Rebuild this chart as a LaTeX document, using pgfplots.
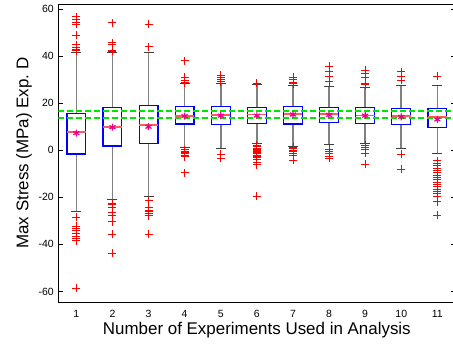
\documentclass[border=0pt]{standalone}
\usepackage{fontspec}
\setmainfont{Liberation Sans}
\usepackage{pgfplots}
\pgfplotsset{compat=1.18}
\usepgfplotslibrary{statistics}
\definecolor{mgreen}{RGB}{0,230,0}
\definecolor{medred}{RGB}{255,90,90}
\definecolor{whisk}{RGB}{128,128,128}
\begin{document}
\begin{tikzpicture}
\begin{axis}[
  scale only axis, width=397.1bp, height=297.7bp,
  xmin=0.5, xmax=11.5, ymin=-64.5, ymax=62.05,
  xtick={1,2,3,4,5,6,7,8,9,10,11},
  xticklabels={1,2,3,4,5,6,7,8,9,10,11},
  ytick={-60,-40,-20,0,20,40,60},
  yticklabels={-60,-40,-20,0,20,40,60},
  tick align=inside,
  major tick length=4.5bp,
  x tick style={draw=none},
  y tick style={black, line width=0.8bp},
  axis line style={line width=1bp},
  tick label style={font=\fontsize{10.5}{12}\selectfont},
  yticklabel style={anchor=east, inner sep=0pt, xshift=-4.3bp},
  xticklabel style={anchor=base, inner sep=0pt, yshift=-15bp},
  label style={font=\fontsize{17}{20}\selectfont},
  xlabel={Number of Experiments Used in Analysis},
  ylabel={Max Stress (MPa) Exp.\ D},
  xlabel style={at={(axis description cs:0.5,-0.1085)}, anchor=base, inner sep=0pt},
  ylabel style={at={(axis description cs:-0.0755,0.5)}, anchor=base, inner sep=0pt},
  boxplot/draw direction=y,
  boxplot/box extend=0.52,
  boxplot/whisker extend=0,
  boxplot/every box/.style={draw=blue, line width=1.2bp},
  boxplot/every whisker/.style={draw=whisk, line width=1.6bp},
  boxplot/every median/.style={draw=medred, line width=1.8bp},
]
\addplot[blue, boxplot prepared={draw position=1, lower whisker=-26.1, lower quartile=-1.6, median=7.6, upper quartile=15.7, upper whisker=41.6}] coordinates {};
\addplot[blue, boxplot prepared={draw position=2, lower whisker=-21.1, lower quartile=1.8, median=10.0, upper quartile=18.3, upper whisker=41.4}] coordinates {};
\addplot[blue, boxplot prepared={draw position=3, lower whisker=-19.7, lower quartile=3.0, median=10.9, upper quartile=19.1, upper whisker=41.4}] coordinates {};
\addplot[blue, boxplot prepared={draw position=4, lower whisker=1.2, lower quartile=11.2, median=14.7, upper quartile=18.7, upper whisker=28.2}] coordinates {};
\addplot[blue, boxplot prepared={draw position=5, lower whisker=0.8, lower quartile=11.0, median=15.0, upper quartile=18.5, upper whisker=28.5}] coordinates {};
\addplot[blue, boxplot prepared={draw position=6, lower whisker=2.7, lower quartile=11.5, median=15.2, upper quartile=18.3, upper whisker=27.8}] coordinates {};
\addplot[blue, boxplot prepared={draw position=7, lower whisker=1.5, lower quartile=11.2, median=15.3, upper quartile=18.7, upper whisker=27.5}] coordinates {};
\addplot[blue, boxplot prepared={draw position=8, lower whisker=2.3, lower quartile=11.9, median=15.3, upper quartile=18.3, upper whisker=27.0}] coordinates {};
\addplot[blue, boxplot prepared={draw position=9, lower whisker=2.7, lower quartile=11.5, median=14.8, upper quartile=18.2, upper whisker=26.8}] coordinates {};
\addplot[blue, boxplot prepared={draw position=10, lower whisker=0.8, lower quartile=11.0, median=14.7, upper quartile=17.8, upper whisker=27.5}] coordinates {};
\addplot[blue, boxplot prepared={draw position=11, lower whisker=-1.3, lower quartile=9.7, median=14.0, upper quartile=17.8, upper whisker=27.5}] coordinates {};
% whisker caps
\addplot[only marks, mark=-, mark size=5bp, black!75, mark options={line width=1.1bp}] coordinates {
(1,-26.1)(1,41.6)(2,-21.1)(2,41.4)(3,-19.7)(3,41.4)(4,1.2)(4,28.2)(5,0.8)(5,28.5)(6,2.7)(6,27.8)
(7,1.5)(7,27.5)(8,2.3)(8,27.0)(9,2.7)(9,26.8)(10,0.8)(10,27.5)(11,-1.3)(11,27.5)};
% reference band
\addplot[mgreen, line width=2bp, dash pattern=on 6bp off 3bp] coordinates {(0.5,16.5)(11.5,16.5)};
\addplot[mgreen, line width=2bp, dash pattern=on 6bp off 3bp] coordinates {(0.5,13.6)(11.5,13.6)};
% outliers
\addplot[only marks, mark=+, red, mark size=4bp, mark options={line width=0.8bp}] coordinates {
(1,56.8)(1,55.7)(1,54.5)(1,53.7)(1,49.0)(1,44.8)(1,43.8)(1,42.9)(1,42.3)
(1,-28.5)(1,-32.2)(1,-33.1)(1,-34.2)(1,-35.3)(1,-36.4)(1,-37.4)(1,-38.4)(1,-58.6)
(2,54.2)(2,45.7)(2,44.8)(2,42.6)(2,42.0)
(2,-22.5)(2,-23.2)(2,-24.2)(2,-26.5)(2,-27.5)(2,-30.3)(2,-35.7)(2,-43.8)
(3,53.5)(3,44.0)(3,-21.4)(3,-24.2)(3,-25.4)(3,-26.1)(3,-26.8)(3,-27.8)(3,-35.7)
(4,38.1)(4,31.0)(4,29.6)(4,28.8)(4,0.3)(4,-0.5)(4,-1.0)(4,-1.5)(4,-2.0)(4,-2.7)(4,-9.5)
(5,32.0)(5,31.0)(5,30.0)(5,29.2)(5,-1.6)(5,-3.4)
(6,28.5)(6,2.2)(6,1.5)(6,1.0)(6,0.5)(6,0.0)(6,-0.5)(6,-1.0)(6,-1.5)(6,-2.0)(6,-2.5)(6,-3.0)(6,-4.0)(6,-5.0)(6,-6.2)(6,-19.4)
(7,31.0)(7,30.0)(7,29.0)(7,28.3)(7,1.2)(7,0.6)(7,0.0)(7,-0.6)(7,-1.2)(7,-2.0)(7,-4.2)
(8,35.8)(8,33.4)(8,31.6)(8,29.2)(8,0.4)(8,-0.5)(8,-1.5)(8,-2.5)(8,-3.3)
(9,34.1)(9,32.7)(9,31.0)(9,28.5)(9,27.8)(9,2.2)(9,1.2)(9,0.2)(9,-1.2)(9,-5.9)
(10,33.4)(10,31.6)(10,29.9)(10,-1.7)(10,-8.1)
(11,31.6)(11,-4.4)(11,-5.5)(11,-6.5)(11,-7.5)(11,-8.5)(11,-9.5)(11,-10.5)(11,-11.5)(11,-12.5)
(11,-13.5)(11,-14.5)(11,-15.5)(11,-16.5)(11,-17.5)(11,-18.5)(11,-19.5)(11,-21.8)(11,-27.5)};
% means
\addplot[only marks, mark=asterisk, magenta, mark size=3.5bp, mark options={line width=1.2bp}] coordinates {
(1,7.3)(2,9.8)(3,10.0)(4,14.5)(5,14.7)(6,14.7)(7,15.2)(8,15.0)(9,14.7)(10,14.2)(11,13.1)};
\coordinate (ll) at (rel axis cs:0,0);
\coordinate (ur) at (rel axis cs:1,1);
\end{axis}
\pgfresetboundingbox
\path[use as bounding box] ([shift={(-58.3bp,-43bp)}]ll) rectangle ([shift={(-2.4bp,4.3bp)}]ur);
\end{tikzpicture}
\end{document}
